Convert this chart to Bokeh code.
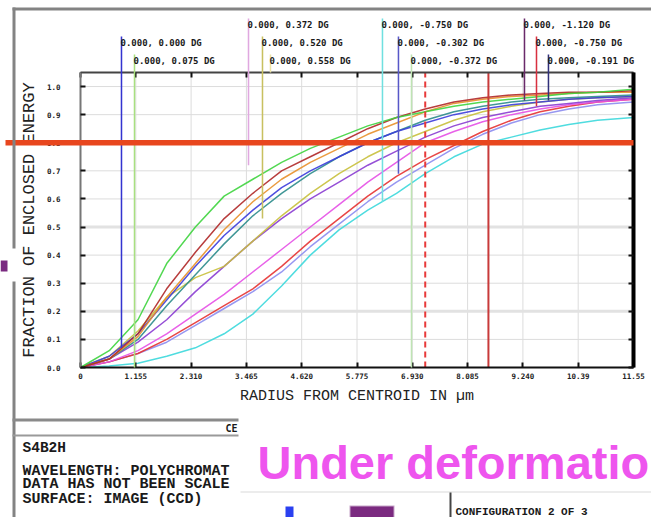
import numpy as np
from bokeh.plotting import figure
from bokeh.models import (Range1d, LinearAxis, FixedTicker, PrintfTickFormatter,
                          Label, BoxAnnotation)
from bokeh.embed import file_html
from bokeh.resources import INLINE

# ---- encircled energy data -------------------------------------------------
radius_um = [0, 0.6, 1.2, 1.8, 2.4, 3.0, 3.6, 4.2, 4.8, 5.4,
             6.0, 6.6, 7.2, 7.8, 8.4, 9.0, 9.6, 10.2, 10.8, 11.55]

ee_green    = [0, .06, .17, .37, .50, .61, .67, .73, .78, .82, .86, .89, .91, .93, .945, .955, .965, .975, .98, .99]
ee_brown    = [0, .03, .12, .28, .41, .53, .62, .70, .75, .80, .85, .89, .92, .945, .96, .97, .975, .98, .98, .985]
ee_orange   = [0, .03, .11, .25, .37, .49, .59, .67, .73, .78, .83, .87, .91, .94, .955, .965, .97, .975, .98, .98]
ee_blue     = [0, .04, .12, .24, .36, .47, .56, .64, .70, .75, .80, .84, .87, .90, .92, .935, .945, .955, .96, .965]
ee_teal     = [0, .03, .10, .22, .33, .44, .54, .62, .69, .75, .80, .84, .88, .91, .93, .945, .955, .96, .965, .97]
ee_olive    = [0, .04, .13, .25, .32, .36, .45, .54, .62, .69, .75, .80, .84, .88, .91, .93, .945, .955, .96, .965]
ee_purple   = [0, .03, .09, .17, .27, .36, .45, .53, .60, .66, .72, .77, .82, .86, .89, .91, .93, .94, .95, .96]
ee_magenta  = [0, .02, .06, .12, .19, .26, .34, .42, .50, .58, .66, .73, .80, .84, .875, .90, .92, .935, .945, .955]
ee_red      = [0, .02, .05, .10, .16, .22, .28, .36, .45, .53, .61, .68, .74, .79, .84, .88, .91, .93, .945, .955]
ee_lavender = [0, .02, .05, .09, .15, .21, .27, .34, .43, .51, .59, .66, .72, .78, .83, .87, .90, .92, .935, .945]
ee_cyan     = [0, .005, .015, .04, .07, .12, .19, .29, .40, .49, .56, .62, .69, .75, .795, .82, .845, .865, .88, .89]

series = [
    (ee_cyan, "#3cd8dc"), (ee_lavender, "#8c8cf0"), (ee_red, "#e63232"),
    (ee_magenta, "#e650e6"), (ee_purple, "#8a3cd2"), (ee_olive, "#c8c03c"),
    (ee_teal, "#2c8c8c"), (ee_blue, "#3c3cdc"), (ee_orange, "#e8902a"),
    (ee_brown, "#b02828"), (ee_green, "#3fd43f"),
]

x_ticks = [0, 1.155, 2.31, 3.465, 4.62, 5.775, 6.93, 8.085, 9.24, 10.395, 11.55]
x_tick_labels = ["0", "1.155", "2.310", "3.465", "4.620", "5.775",
                 "6.930", "8.085", "9.240", "10.39", "11.55"]
y_ticks = [0.0, 0.1, 0.2, 0.3, 0.4, 0.5, 0.6, 0.7, 0.8, 0.9, 1.0]

# field legend: text, radius of its leader line, fraction where the leader stops
field_labels = ["0.000, 0.000 DG", "0.000, 0.075 DG", "0.000, 0.372 DG",
                "0.000, 0.520 DG", "0.000, 0.558 DG", "0.000, -0.750 DG",
                "0.000, -0.302 DG", "0.000, -0.372 DG", "0.000, -1.120 DG",
                "0.000, -0.750 DG", "0.000, -0.191 DG"]
field_radius = [0.856, 1.128, 3.509, 3.801, 3.968, 6.307, 6.641, 6.913, 9.273, 9.524, 9.774]
field_leader_end = [0.07, 0.0, 0.72, 0.53, 1.05, 0.59, 0.69, 0.0, 0.95, 0.93, 0.95]

target_fraction = 0.8

# ---- page geometry -------------------------------------------------------------
W, H = 651, 517
X_MAX, Y_TOP = 11.55, 1.05
PLOT_L, PLOT_R, PLOT_T, PLOT_B = 80, 633, 72, 367     # plot box on the canvas

kx = (PLOT_R - PLOT_L) / X_MAX
ky = (PLOT_B - PLOT_T) / Y_TOP
x_range = Range1d(-PLOT_L / kx, X_MAX + (W - PLOT_R) / kx)
y_range = Range1d(-(H - PLOT_B) / ky, Y_TOP + PLOT_T / ky)

p = figure(width=W, height=H, x_range=x_range, y_range=y_range,
           output_backend="svg", toolbar_location=None,
           x_axis_location=None, y_axis_location=None,
           min_border=0, background_fill_color="white",
           border_fill_color="white", outline_line_color=None)
p.title.visible = False
p.grid.visible = False

mono = "DejaVu Sans Mono"
wide = "Liberation Mono"


def make_axis(ticks, loc, bounds):
    ax = LinearAxis(ticker=FixedTicker(ticks=ticks), fixed_location=loc, bounds=bounds)
    ax.major_tick_in = 5
    ax.major_tick_out = 0
    ax.minor_tick_line_color = None
    ax.major_tick_line_color = "#111111"
    ax.major_tick_line_width = 2
    ax.major_label_text_font = mono
    ax.major_label_text_font_style = "bold"
    ax.major_label_text_font_size = "7.5px"
    ax.major_label_text_color = "#222222"
    return ax


bottom = make_axis(x_ticks, 0, (0, X_MAX))
bottom.major_label_overrides = {t: s for t, s in zip(x_ticks, x_tick_labels)}
bottom.major_label_standoff = 5
bottom.axis_line_color = "#111111"
bottom.axis_line_width = 2
bottom.axis_label = "RADIUS FROM CENTROID IN \u00b5m"
bottom.axis_label_text_font = wide
bottom.axis_label_text_font_size = "15px"
bottom.axis_label_text_font_style = "normal"
bottom.axis_label_text_color = "#222222"
bottom.axis_label_standoff = 6
p.add_layout(bottom, "below")

left = make_axis(y_ticks, 0, (0, Y_TOP))
left.formatter = PrintfTickFormatter(format="%.1f")
left.major_label_standoff = 20
left.axis_line_color = "#777777"
left.axis_line_width = 2
left.axis_label = "FRACTION OF ENCLOSED ENERGY"
left.axis_label_text_font = wide
left.axis_label_text_font_size = "17px"
left.axis_label_text_font_style = "normal"
left.axis_label_text_color = "#222222"
left.axis_label_standoff = 5
p.add_layout(left, "left")

top = make_axis(x_ticks, Y_TOP, (0, X_MAX))
top.major_label_overrides = {t: "" for t in x_ticks}
top.axis_line_color = "#444444"
top.axis_line_width = 2
p.add_layout(top, "above")

right = make_axis(y_ticks, X_MAX, (0, Y_TOP))
right.major_label_overrides = {t: "" for t in y_ticks}
right.axis_line_color = "#000000"
right.axis_line_width = 4
p.add_layout(right, "right")

# grid lines confined to the plot box; two of the horizontal ones are heavier
inner_x = x_ticks[1:-1]
inner_y = y_ticks[1:]
heavy_y = [0.2, 0.5]
p.segment(x0=inner_x, y0=[0] * len(inner_x), x1=inner_x, y1=[Y_TOP] * len(inner_x),
          line_color="#dcdcdc", line_width=1)
p.segment(x0=[0] * len(inner_y), y0=inner_y, x1=[X_MAX] * len(inner_y), y1=inner_y,
          line_color="#dcdcdc", line_width=1)
p.segment(x0=[0] * len(heavy_y), y0=heavy_y, x1=[X_MAX] * len(heavy_y), y1=heavy_y,
          line_color="#e2e2e2", line_width=3)


def box(x0, y0, x1, y1, color, alpha=1.0):
    """Filled rectangle in canvas pixels."""
    p.add_layout(BoxAnnotation(left=x0, right=x1, top=y0, bottom=y1,
                               left_units="canvas", right_units="canvas",
                               top_units="canvas", bottom_units="canvas",
                               fill_color=color, fill_alpha=alpha,
                               line_color=None, level="overlay"))


def text(x, y, s, size, color="#1a1a1a", font=mono, style="bold", baseline="middle", align="left"):
    p.add_layout(Label(x=x, y=y, x_units="canvas", y_units="canvas", text=s,
                       text_font=font, text_font_size=size, text_font_style=style,
                       text_color=color, text_baseline=baseline, text_align=align,
                       level="overlay"))


# ---- curves --------------------------------------------------------------------
for ys, c in series:
    p.line(radius_um, ys, line_color=c, line_width=1.5, line_alpha=0.9)

# ---- field legend with leader lines -----------------------------------------
leader_colors = ["#3434d0", "#a8e080", "#e0a8e0", "#c8c060", "#ece4a8", "#70e0e0",
                 "#5858c8", "#bfe4b4", "#6a2a6a", "#d83040", "#30307a"]
row_y = [42, 60, 24, 42, 60, 24, 42, 60, 24, 42, 60]
half = 0.016
for lab, r, yend, c, ry in zip(field_labels, field_radius, field_leader_end, leader_colors, row_y):
    p.add_layout(BoxAnnotation(left=r - half, right=r + half, left_units="data", right_units="data",
                               top=ry - 6, top_units="canvas", bottom=yend, bottom_units="data",
                               fill_color=c, fill_alpha=1.0, line_color=None))
    p.add_layout(Label(x=r, y=ry, x_units="data", y_units="canvas", x_offset=-1, text=lab,
                       text_font=mono, text_font_size="9px", text_font_style="bold",
                       text_color="#1a1a1a", text_baseline="middle", text_align="left"))

# ---- 80% energy reference lines ---------------------------------------------
r_dash = float(np.interp(target_fraction, ee_magenta, radius_um))
r_solid = float(np.interp(target_fraction, ee_cyan, radius_um))
p.segment(x0=[r_dash], y0=[0], x1=[r_dash], y1=[Y_TOP], line_color="#e83a3a",
          line_width=2, line_dash="6 4")
p.segment(x0=[r_solid], y0=[0], x1=[r_solid], y1=[Y_TOP], line_color="#c83a3a", line_width=2)
p.add_layout(BoxAnnotation(left=5, left_units="canvas", right=X_MAX, right_units="data",
                           bottom=target_fraction - 0.0095, top=target_fraction + 0.0095,
                           bottom_units="data", top_units="data",
                           fill_color="#e8461e", fill_alpha=1.0, line_color=None))

# ---- window chrome around the plot --------------------------------------------
box(12, 7, W, 10, "#838383")          # top border
box(12, 7, 15, 248, "#838383")        # left border, upper part
box(12, 281, 15, H, "#838383")        # left border, lower part
box(0, 260, 7, 271, "#7a2a80")        # small marker on the left edge
box(12, 418, 238, 421, "#8a8a8a")     # info panel rules
box(12, 434, 238, 436, "#9a9a9a")
box(240, 491, W, 492, "#dadada")
box(449, 492, 451, H, "#444444")
box(285, 506, 293, H, "#2a40f0")
box(349, 505, 394, H, "#c7a6c9")
box(350, 506, 393, H, "#7b2a80")

text(237, 428, "CE", "10px", align="right")
text(22, 447, "S4B2H", "14.5px", font=wide)
text(22, 471, "WAVELENGTH: POLYCHROMAT", "15px", font=wide)
text(22, 484, "DATA HAS NOT BEEN SCALE", "15px", font=wide)
text(22, 499, "SURFACE: IMAGE (CCD)", "15px", font=wide)
text(455, 511, "CONFIGURATION 2 OF 3", "11px", font=wide)
text(257, 462, "Under deformatio", "47px", color="#ee55ee", font="Liberation Sans",
     baseline="alphabetic")

open("out.html", "w").write(file_html(p, INLINE))
